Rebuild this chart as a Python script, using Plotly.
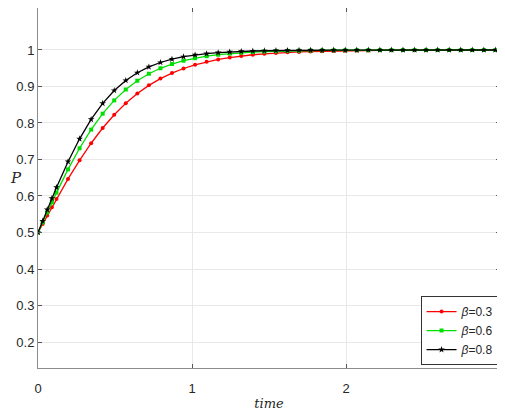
import plotly.graph_objects as go

# time points (solver output, denser near the start)
t = [0, 0.03, 0.06, 0.09, 0.12, 0.195, 0.27, 0.345, 0.42, 0.495, 0.57, 0.645,
     0.72, 0.795, 0.87, 0.945, 1.02, 1.095, 1.17, 1.245, 1.32, 1.395, 1.47,
     1.545, 1.62, 1.695, 1.77, 1.845, 1.92, 1.995, 2.07, 2.145, 2.22, 2.295,
     2.37, 2.445, 2.52, 2.595, 2.67, 2.745, 2.82, 2.895, 2.97, 3.0]

# P for beta = 0.3
p_03 = [0.5, 0.5232, 0.5464, 0.5693, 0.5920, 0.6467, 0.6978, 0.7445, 0.7862,
        0.8227, 0.8540, 0.8807, 0.9031, 0.9216, 0.9368, 0.9493, 0.9594, 0.9675,
        0.9741, 0.9793, 0.9836, 0.9869, 0.9896, 0.9918, 0.9935, 0.9948, 0.9959,
        0.9967, 0.9974, 0.9979, 0.9984, 0.9987, 0.9990, 0.9992, 0.9994, 0.9995,
        0.9996, 0.9997, 0.9997, 0.9998, 0.9998, 0.9999, 0.9999, 0.9999]

# P for beta = 0.6
p_06 = [0.5, 0.5277, 0.5553, 0.5825, 0.6092, 0.6729, 0.7308, 0.7818, 0.8255,
        0.8619, 0.8917, 0.9158, 0.9349, 0.9499, 0.9615, 0.9706, 0.9775, 0.9829,
        0.9870, 0.9901, 0.9925, 0.9943, 0.9957, 0.9967, 0.9975, 0.9981, 0.9986,
        0.9989, 0.9992, 0.9994, 0.9995, 0.9996, 0.9997, 0.9998, 0.9998, 0.9999,
        0.9999, 0.9999, 0.9999, 1.0, 1.0, 1.0, 1.0, 1.0]

# P for beta = 0.8
p_08 = [0.5, 0.5315, 0.5627, 0.5934, 0.6234, 0.6940, 0.7566, 0.8098, 0.8538,
        0.8889, 0.9164, 0.9376, 0.9537, 0.9657, 0.9748, 0.9815, 0.9864, 0.9900,
        0.9927, 0.9947, 0.9961, 0.9972, 0.9979, 0.9985, 0.9989, 0.9992, 0.9994,
        0.9996, 0.9997, 0.9998, 0.9998, 0.9999, 0.9999, 0.9999, 1.0, 1.0,
        1.0, 1.0, 1.0, 1.0, 1.0, 1.0, 1.0, 1.0]

series = [
    ("<i>β</i>=0.3", p_03, "#ff0000", "circle", 4),
    ("<i>β</i>=0.6", p_06, "#00e000", "square", 4),
    ("<i>β</i>=0.8", p_08, "#000000", "star", 5),
]

fig = go.Figure()
for name, p, color, symbol, size in series:
    fig.add_trace(go.Scatter(
        x=t, y=p, mode="lines+markers", name=name,
        line=dict(color=color, width=1.3),
        marker=dict(color=color, symbol=symbol, size=size),
    ))

axis_style = dict(
    showgrid=True, gridcolor="#e8e8e8", gridwidth=1, automargin=False,
    zeroline=False, showline=True, linecolor="#8c8c8c", linewidth=1,
    mirror="ticks", ticks="inside", ticklen=4, tickcolor="#555555",
    tickfont=dict(family="Liberation Sans, Arial", size=13, color="#262626"),
)

# the page body adds an 8px margin, so the figure is a bit smaller than the window
fig.update_layout(
    width=497, height=406,
    margin=dict(l=30, r=5, t=0, b=46),
    plot_bgcolor="white", paper_bgcolor="white",
    xaxis=dict(range=[0, 3], tickvals=[0, 1, 2], ticklabelstandoff=8,
               title=dict(text="<i>time</i>", standoff=4,
                          font=dict(family="DejaVu Serif", size=13, color="#262626")),
               **axis_style),
    yaxis=dict(range=[0.1288, 1.115],
               tickvals=[0.2, 0.3, 0.4, 0.5, 0.6, 0.7, 0.8, 0.9, 1.0],
               ticktext=["0.2", "0.3", "0.4", "0.5", "0.6", "0.7", "0.8", "0.9", "1"],
               **axis_style),
    legend=dict(x=0.999, y=0.008, xanchor="right", yanchor="bottom",
                bgcolor="white", bordercolor="#333333", borderwidth=1,
                font=dict(family="Liberation Sans, Arial", size=12, color="#262626"),
                tracegroupgap=0, itemwidth=30),
    showlegend=True,
)

fig.add_annotation(
    x=-0.0645, y=0.65, xref="paper", yref="y", text="<i>P</i>",
    xanchor="left", yanchor="middle",
    showarrow=False, font=dict(family="DejaVu Serif", size=15, color="#262626"),
)

fig.write_html("out.html")
